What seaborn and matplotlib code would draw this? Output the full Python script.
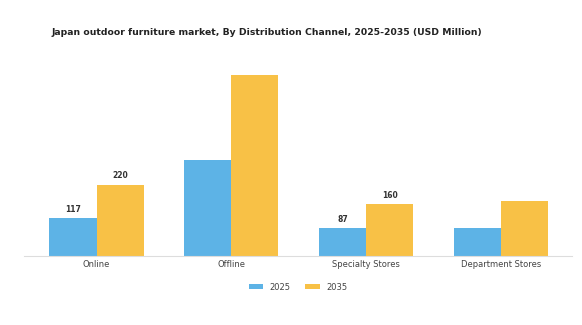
import matplotlib
matplotlib.use("Agg")
import matplotlib.pyplot as plt
import seaborn as sns
import pandas as pd

channels = ["Online", "Offline", "Specialty Stores", "Department Stores"]
years = ["2025", "2035"]
values_2025 = [117, 295, 87, 88]
values_2035 = [220, 557, 160, 171]
shown_2025 = ["117", "", "87", ""]
shown_2035 = ["220", "", "160", ""]
colors = ["#5DB3E6", "#F8C146"]

df = pd.DataFrame({
    "Channel": channels * 2,
    "Year": [years[0]] * len(channels) + [years[1]] * len(channels),
    "Value": values_2025 + values_2035,
})

sns.set_theme(style="white")
plt.rcParams["font.family"] = ["DejaVu Sans"]

fig = plt.figure(figsize=(5.82, 3.25), dpi=100)
ax = fig.add_axes([0.041, 0.212, 0.942, 0.62])

sns.barplot(data=df, x="Channel", y="Value", hue="Year", palette=colors,
            width=0.7, ax=ax, saturation=1, legend=True, linewidth=0,
            edgecolor="none")

for cont, labs in zip(ax.containers, [shown_2025, shown_2035]):
    ax.bar_label(cont, labels=labs, padding=3, fontsize=5.5, fontweight="bold",
                 color="#333333")

ax.set_xlim(-0.54, 3.53)
ax.set_ylim(0, 620)
ax.set_xlabel("")
ax.set_ylabel("")
ax.set_yticks([])
for s in ["top", "right", "left"]:
    ax.spines[s].set_visible(False)
ax.spines["bottom"].set_color("#dddddd")
ax.spines["bottom"].set_linewidth(0.8)
ax.tick_params(axis="x", labelsize=6, colors="#444444", length=0, pad=3)

ax.legend(loc="upper center", bbox_to_anchor=(0.5, -0.095), ncol=2,
          frameon=False, fontsize=6, handlelength=1.7, handleheight=0.5,
          columnspacing=1.8, labelcolor="#444444")

fig.suptitle("Japan outdoor furniture market, By Distribution Channel, 2025-2035 (USD Million)",
             x=0.459, y=0.915, fontsize=6.7, fontweight="bold", color="#222222")

fig.savefig("out.png", dpi=100, facecolor="white")
